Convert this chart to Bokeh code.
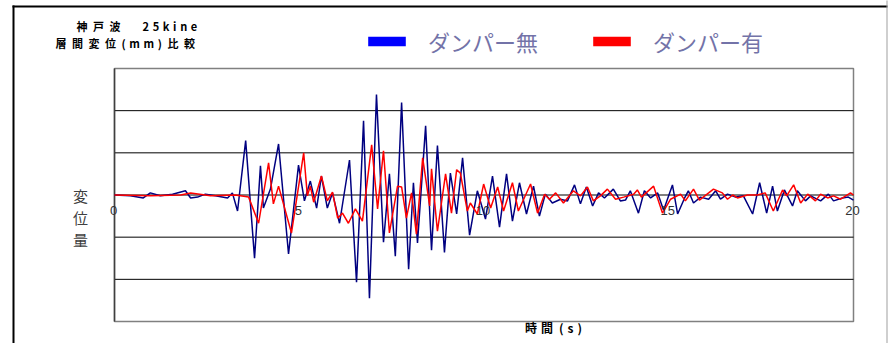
from bokeh.plotting import figure
from bokeh.models import (Range1d, Label, LabelSet, ColumnDataSource,
                          Legend, LegendItem, BoxAnnotation)
from bokeh.core.properties import value
from bokeh.embed import file_html
from bokeh.resources import INLINE

# ---- data ----
time_blue = [0, 0.43, 0.78, 0.97, 1.24, 1.57, 1.92, 2.06, 2.25, 2.46, 2.73, 3.06, 3.19, 3.33, 3.55,
             3.79, 3.95, 4.03, 4.22, 4.44, 4.71, 4.98, 5.14, 5.30, 5.47, 5.60, 5.76, 5.90, 6.09,
             6.36, 6.55, 6.74, 6.90, 7.09, 7.28, 7.44, 7.60, 7.77, 7.96, 8.09, 8.20, 8.42, 8.58,
             8.74, 8.93, 9.09, 9.26, 9.42, 9.61, 9.82, 10.04, 10.23, 10.42, 10.61, 10.77, 10.96,
             11.15, 11.34, 11.50, 11.66, 11.85, 12.07, 12.26, 12.45, 12.61, 12.77, 12.94, 13.10,
             13.26, 13.50, 13.69, 13.83, 13.96, 14.18, 14.34, 14.51, 14.70, 14.86, 15.10, 15.24,
             15.43, 15.53, 15.67, 15.86, 16.08, 16.27, 16.40, 16.59, 16.81, 17.02, 17.27, 17.46,
             17.65, 17.81, 17.94, 18.13, 18.35, 18.48, 18.70, 18.84, 19.11, 19.32, 19.46, 19.70,
             19.86, 20.00]
disp_blue = [0, -0.02, -0.07, 0.05, -0.02, 0.02, 0.10, -0.07, -0.05, 0.02, -0.02, -0.07, 0.05, -0.38,
             1.29, -1.50, 0.69, -0.31, 0.14, 1.21, -1.40, 0.71, -0.14, 0.33, -0.31, 0.45, -0.31,
             0.05, -0.67, 0.83, -2.07, 1.76, -2.45, 2.38, -1.12, 0.50, -1.45, 2.19, -1.76, 0.29,
             -1.14, 1.64, -1.31, 1.17, -1.36, 0.52, -0.45, 0.88, -0.95, 0.10, -0.57, 0.45, -0.76,
             0.50, -0.62, 0.29, -0.45, 0.21, -0.50, 0.02, -0.19, -0.10, -0.14, 0.24, -0.21, 0.19,
             -0.26, 0.05, -0.07, 0.14, -0.14, -0.12, 0.10, -0.43, 0.10, -0.07, 0.05, -0.36, 0.24,
             -0.45, -0.07, 0.10, -0.19, -0.05, -0.10, 0.10, -0.10, 0.02, -0.05, -0.02, -0.45, 0.29,
             -0.43, 0.21, -0.38, 0.12, -0.26, 0.10, -0.14, -0.02, -0.14, 0.02, -0.14, -0.07, -0.05,
             -0.12]
time_red = [0, 0.97, 1.79, 2.06, 2.60, 3.27, 3.63, 3.90, 4.17, 4.30, 4.44, 4.79, 5.12, 5.22, 5.30,
            5.39, 5.60, 5.76, 5.90, 6.04, 6.17, 6.33, 6.52, 6.71, 6.96, 7.12, 7.28, 7.44, 7.66,
            7.77, 7.90, 8.04, 8.17, 8.34, 8.53, 8.58, 8.74, 8.96, 9.12, 9.26, 9.36, 9.55, 9.63,
            9.82, 9.99, 10.18, 10.37, 10.53, 10.77, 10.93, 11.26, 11.45, 11.64, 11.77, 11.94,
            12.15, 12.42, 12.61, 12.80, 12.96, 13.15, 13.34, 13.56, 13.78, 14.05, 14.15, 14.26,
            14.59, 14.83, 15.05, 15.32, 15.45, 15.67, 15.83, 16.08, 16.21, 16.45, 16.59, 16.73,
            16.86, 17.13, 17.40, 17.61, 17.83, 18.08, 18.19, 18.38, 18.57, 18.76, 18.97, 19.11,
            19.30, 19.46, 19.65, 19.92, 20.00]
disp_red = [0, -0.02, 0, 0.05, -0.02, 0, -0.05, -0.67, 0.76, -0.21, 0.21, -0.90, 1.00, -0.02, 0.21,
            -0.17, 0.45, -0.14, 0.07, -0.55, -0.43, -0.67, -0.33, -0.62, 1.19, -0.33, 1.05, -0.90,
            0.21, 0.19, -0.55, 0.05, -0.93, 0.88, -0.26, 0.62, -0.86, 0.50, -0.43, 0.60, 0.52,
            -0.38, -0.19, -0.45, 0.26, -0.31, 0.19, -0.38, 0.29, -0.38, 0.26, -0.43, 0.02, -0.10,
            0.05, -0.19, 0.10, -0.02, 0.19, -0.14, -0.02, 0.14, -0.10, -0.05, 0.02, 0.12, -0.05,
            0.21, -0.43, -0.10, 0.02, -0.14, 0.14, -0.12, 0.05, 0.14, 0.05, -0.10, 0, -0.07, 0, 0,
            0.05, -0.38, 0.12, -0.02, 0.24, -0.19, 0.02, -0.14, 0.02, -0.07, -0.02, -0.10, 0.05, 0]

series_names = ["ダンパー無", "ダンパー有"]
x_limits = [0, 20]
y_limits = [-3, 3]
x_ticks = [0, 5, 10, 15, 20]
x_tick_labels = ["0", "5", "10", "15", "20"]
grid_levels = [-2, -1, 0, 1, 2]
EN, TH = "\u2002", "\u2004"   # letter spacing used in the sheet's titles
title_lines = [EN.join("神戸波") + "\u3000" + EN + EN + TH.join("25kine"),
               EN.join("層間変位") + EN + "(" + TH + "m" + TH + "m" + TH + ")" + EN + EN.join("比較")]
y_title = "変\n位\n量"
x_title = "時" + TH + "間" + EN + "(" + TH + "s" + TH + ")"

JP = "Noto Sans CJK JP"

# ---- layout (pixels on the page) ----
W, H = 893, 343
PL, PR, PT, PB = 114, 853, 68, 321        # plot box edges
ppx = (PR - PL) / (x_limits[1] - x_limits[0])
ppy = (PB - PT) / (y_limits[1] - y_limits[0])
x_range = Range1d(x_limits[0] - PL / ppx, x_limits[1] + (W - PR) / ppx)
y_range = Range1d(y_limits[0] - (H - PB) / ppy, y_limits[1] + PT / ppy)

p = figure(width=W, height=H, x_range=x_range, y_range=y_range,
           output_backend="svg", toolbar_location=None,
           x_axis_location=None, y_axis_location=None,
           min_border_left=0, min_border_right=0, min_border_top=0, min_border_bottom=0)
p.background_fill_color = "white"
p.border_fill_color = "white"
p.outline_line_color = None
p.grid.visible = False

# plot box and grid
p.quad(left=[x_limits[0]], right=[x_limits[1]], bottom=[y_limits[0]], top=[y_limits[1]],
       fill_color=None, line_color="#808080", line_width=1.5)
p.segment(x0=[x_limits[0]] * len(grid_levels), x1=[x_limits[1]] * len(grid_levels),
          y0=grid_levels, y1=grid_levels, line_color="black", line_width=1)
p.segment(x0=[x_limits[0]], x1=[x_limits[0]], y0=[y_limits[0]], y1=[y_limits[1]],
          line_color="#404040", line_width=1.5)

# legend swatches: zero-area boxes on the series points (invisible in the plot)
rb = p.quad(left=time_blue, right=time_blue, top=disp_blue, bottom=disp_blue,
            fill_color="#0000FF", line_color=None)
rr = p.quad(left=time_red, right=time_red, top=disp_red, bottom=disp_red,
            fill_color="#FF0000", line_color=None)

p.line(time_blue, disp_blue, line_color="#000080", line_width=1.5)
p.line(time_red, disp_red, line_color="#FF0000", line_width=1.5)

legend = Legend(items=[LegendItem(label=series_names[0], renderers=[rb]),
                       LegendItem(label=series_names[1], renderers=[rr])],
                location=(363, H - 57), orientation="horizontal",
                glyph_width=47, glyph_height=12, label_standoff=18, spacing=50,
                padding=0, margin=0, border_line_color=None, background_fill_alpha=0,
                label_text_font=JP, label_text_font_size="22px", label_text_color="#7373A8")
p.add_layout(legend)

# x tick labels on the zero line
tick_src = ColumnDataSource(dict(x=x_ticks, y=[0] * len(x_ticks), text=x_tick_labels))
p.add_layout(LabelSet(x="x", y="y", text="text", source=tick_src, text_align="center",
                      text_baseline="top", y_offset=-11, x_offset=-1,
                      text_font=value("Liberation Sans"), text_font_size="13px",
                      text_color="#333333"))

# titles (screen units, from the canvas bottom-left)
p.add_layout(Label(x=76, y=H - 25, x_units="screen", y_units="screen", text=title_lines[0],
                   text_font=JP, text_font_size="11px", text_baseline="middle",
                   text_color="black", text_font_style="bold"))
p.add_layout(Label(x=55, y=H - 42, x_units="screen", y_units="screen", text=title_lines[1],
                   text_font=JP, text_font_size="11px", text_baseline="middle",
                   text_color="black", text_font_style="bold"))
p.add_layout(Label(x=80, y=H - 217, x_units="screen", y_units="screen", text=y_title,
                   text_font=JP, text_font_size="15px", text_baseline="middle",
                   text_align="center", text_line_height=1.05, text_color="#404040"))
p.add_layout(Label(x=553, y=H - 327, x_units="screen", y_units="screen", text=x_title,
                   text_font=JP, text_font_size="12px", text_baseline="middle",
                   text_align="center", text_color="black", text_font_style="bold"))

# outer frame of the sheet
for l, r, t, b, c in [(12, 14, H - 5, -5, "black"), (12, 887, H - 5, H - 7, "black"),
                      (886, 887, H + 5, -5, "#A0A0A0")]:
    p.add_layout(BoxAnnotation(left=l, right=r, top=t, bottom=b, left_units="screen",
                               right_units="screen", top_units="screen", bottom_units="screen",
                               fill_color=c, fill_alpha=1, line_color=None))

open("out.html", "w").write(file_html(p, INLINE))
